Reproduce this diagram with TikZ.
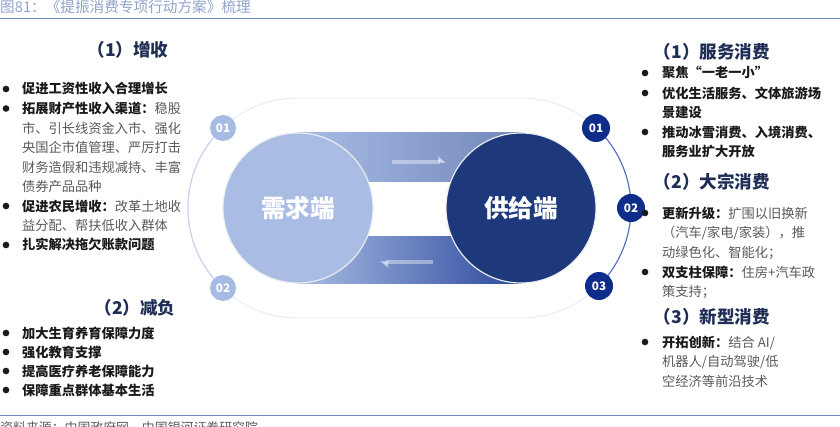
\documentclass[tikz,border=0pt]{standalone}
\usepackage{fontspec}
\setmainfont{Noto Sans CJK SC}
\usetikzlibrary{arrows.meta}

\definecolor{titlec}{HTML}{8FA3CB}
\definecolor{rulec}{HTML}{7088C0}
\definecolor{headc}{HTML}{1F2E55}
\definecolor{boldc}{HTML}{1A1A1A}
\definecolor{greyc}{HTML}{595959}
\definecolor{demandc}{HTML}{A8BCE4}
\definecolor{supplyc}{HTML}{1E387C}
\definecolor{lbadgec}{HTML}{A6BBE3}
\definecolor{rbadgec}{HTML}{0E2C8A}
\definecolor{faintc}{HTML}{E6EBF5}
\definecolor{larcc}{HTML}{C7D5EF}
\definecolor{rarcc}{HTML}{5B74BB}

\newcommand{\lead}[1]{{\bfseries\color{boldc}#1}}

\tikzset{
  head/.style={inner sep=0, text=headc, font=\fontsize{15}{18}\selectfont\bfseries},
  item/.style={anchor=base west, align=left, inner sep=0, text=greyc,
    font=\fontsize{11.3}{16.6}\selectfont},
  itemb/.style={item, text=boldc, font=\fontsize{11.3}{16.2}\selectfont\bfseries},
  dot/.style={circle, fill=boldc, inner sep=0, minimum size=0.2cm},
  side/.style={circle, inner sep=0, minimum size=4.5cm, text=white,
    draw=white!85!gray, line width=1pt, font=\fontsize{21}{25}\selectfont\bfseries},
  lbadge/.style={circle, fill=lbadgec, inner sep=0, minimum size=0.78cm, text=white,
    font=\fontsize{10}{10}\selectfont\bfseries},
  rbadge/.style={lbadge, fill=rbadgec, minimum size=0.84cm},
  flow/.style={white, opacity=.4, line width=3pt, -{Triangle[left, length=6pt, width=10pt]}}
}

\begin{document}
\begin{tikzpicture}[x=0.03cm, y=-0.03cm]
  \useasboundingbox (0,0) rectangle (840,427);
  % title and rules
  \node[anchor=west, inner sep=0, text=titlec, font=\fontsize{12.5}{14}\selectfont] (title) at (0,7) {图81：《提振消费专项行动方案》梳理};
  \draw[rulec, line width=0.8pt] (0,18) -- (840,18);
  \draw[rulec, line width=0.8pt] (0,415) -- (840,415);
  \node[anchor=west, inner sep=0, text=greyc, font=\fontsize{11}{13}\selectfont] (source) at (0,428) {资料来源：中国政府网，中国银河证券研究院};

  % rings and bands
  \coordinate (lc) at (298,208);
  \coordinate (rc) at (521,208);
  \draw[faintc, line width=0.8pt, rounded corners=3.3cm] (188,98) rectangle (631,318);
  \draw[larcc, line width=1pt] (lc) ++(-133:110) arc[start angle=-133, end angle=-227, radius=110];
  \draw[rarcc, line width=1pt] (rc) ++(-47:110) arc[start angle=-47, end angle=45, radius=110];
  \shade[left color=demandc, right color=demandc!60!supplyc] (298,133) rectangle (521,182);
  \shade[left color=demandc, right color=rbadgec!80!demandc] (298,237) rectangle (521,283);
  \coordinate (t1) at (392,162);
  \coordinate (t2) at (446,162);
  \coordinate (b1) at (433,262);
  \coordinate (b2) at (380,262);
  \draw[flow] (t1) -- (t2);
  \draw[flow] (b1) -- (b2);

  % nodes
  \node[side, fill=demandc] (demand) at (lc) {需求端};
  \node[side, fill=supplyc] (supply) at (rc) {供给端};
  \node[lbadge] (l1) at (223,128) {01};
  \node[lbadge] (l2) at (223,288) {02};
  \node[rbadge] (r1) at (596,128) {01};
  \node[rbadge] (r2) at (631,208) {02};
  \node[rbadge] (r3) at (599,286) {03};

  % left column
  \node[head] (inc) at (128,50) {（1）增收};
  \foreach \y in {89,108.5,206,245} \node[dot] at (6,\y) {};
  \node[item] (inc1) at (22,94) {\lead{促进工资性收入合理增长}};
  \node[item] (inc2) at (22,191.5) {\lead{拓展财产性收入渠道：}稳股\\市、引长线资金入市、强化\\央国企市值管理、严厉打击\\财务造假和违规减持、丰富\\债券产品品种};
  \node[item] (inc3) at (22,230.5) {\lead{促进农民增收：}改革土地收\\益分配、帮扶低收入群体};
  \node[item] (inc4) at (22,250) {\lead{扎实解决拖欠账款问题}};

  \node[head] (cut) at (135,308) {（2）减负};
  \foreach \y in {333,352,371,390} \node[dot] at (6,\y) {};
  \node[itemb] (cut1) at (22,395.2) {加大生育养育保障力度\\强化教育支撑\\提高医疗养老保障能力\\保障重点群体基本生活};

  % right column
  \node[head] (svc) at (712,52) {（1）服务消费};
  \foreach \y in {73,93,132} \node[dot] at (645,\y) {};
  \node[item] (svc1) at (662,78) {\lead{聚焦“一老一小”}};
  \node[item] (svc2) at (662,117.5) {\lead{优化生活服务、文体旅游场}\\\lead{景建设}};
  \node[item] (svc3) at (662,156.5) {\lead{推动冰雪消费、入境消费、}\\\lead{服务业扩大开放}};

  \node[head] (bulk) at (712,182) {（2）大宗消费};
  \foreach \y in {213,272} \node[dot] at (645,\y) {};
  \node[item] (bulk1) at (662,257) {\lead{更新升级：}扩围以旧换新\\（汽车/家电/家装），推\\动绿色化、智能化；};
  \node[item] (bulk2) at (662,296.5) {\lead{双支柱保障：}住房+汽车政\\策支持；};

  \node[head] (new) at (712,317) {（3）新型消费};
  \node[dot] at (645,342) {};
  \node[item] (new1) at (662,386) {\lead{开拓创新：}结合 AI/\\机器人/自动驾驶/低\\空经济等前沿技术};
\end{tikzpicture}
\end{document}
